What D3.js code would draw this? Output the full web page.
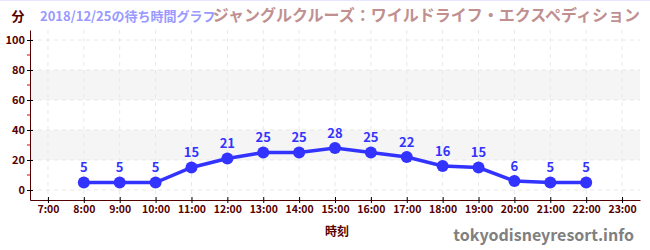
<!DOCTYPE html>
<html>
<head>
<meta charset="utf-8">
<script src="https://d3js.org/d3.v7.min.js"></script>
<style>
  body { margin: 0; background: #fff; }
  text { font-family: "Noto Sans CJK JP", "DejaVu Sans", sans-serif; }
</style>
</head>
<body>
<div id="chart"></div>
<script>
// data
const hours = [8, 9, 10, 11, 12, 13, 14, 15, 16, 17, 18, 19, 20, 21, 22];
const waits = [5, 5, 5, 15, 21, 25, 25, 28, 25, 22, 16, 15, 6, 5, 5];
const xTicks = [7, 8, 9, 10, 11, 12, 13, 14, 15, 16, 17, 18, 19, 20, 21, 22, 23];
const yTicks = [0, 20, 40, 60, 80, 100];
const yMinor = [10, 30, 50, 70, 90];
const bands = [[20, 40], [60, 80]];

const W = 650, H = 250;
const svg = d3.select("#chart").append("svg")
  .attr("width", W).attr("height", H);

const x = d3.scaleLinear().domain([6.5, 23.5]).range([30, 640]);
const y = d3.scaleLinear().domain([-6.67, 106.67]).range([200, 30]);

// shaded bands
svg.selectAll(".band").data(bands).enter().append("rect")
  .attr("x", x(6.5)).attr("width", x(23.5) - x(6.5))
  .attr("y", d => y(d[1])).attr("height", d => y(d[0]) - y(d[1]))
  .attr("fill", "#f5f5f5");

// grid
svg.selectAll(".hg").data(yTicks).enter().append("line")
  .attr("x1", x(6.5)).attr("x2", x(23.5))
  .attr("y1", d => y(d)).attr("y2", d => y(d))
  .attr("stroke", "#e8e8e8").attr("stroke-dasharray", "4,4");
svg.selectAll(".vg").data(xTicks).enter().append("line")
  .attr("x1", d => x(d)).attr("x2", d => x(d))
  .attr("y1", 30).attr("y2", 200)
  .attr("stroke", "#e8e8e8").attr("stroke-dasharray", "4,4");

// y axis
const yAxis = svg.append("g").attr("transform", "translate(30,0)")
  .call(d3.axisLeft(y).tickValues(yTicks).tickSize(3).tickSizeOuter(0));
yAxis.select(".domain").attr("stroke", "#550000");
yAxis.selectAll(".tick line").attr("x2", 3).attr("x1", -3).attr("stroke", "#000");
yAxis.selectAll("text").attr("x", -5).attr("fill", "#550000")
  .style("font-size", "11px").style("font-weight", "bold");
svg.selectAll(".ym").data(yMinor).enter().append("line")
  .attr("x1", 27).attr("x2", 30)
  .attr("y1", d => y(d)).attr("y2", d => y(d))
  .attr("stroke", "#dd0000");

// x axis
const xAxis = svg.append("g").attr("transform", "translate(0,200)")
  .call(d3.axisBottom(x).tickValues(xTicks).tickFormat(d => d + ":00").tickSize(3).tickSizeOuter(0));
xAxis.select(".domain").attr("stroke", "#550000");
xAxis.selectAll(".tick line").attr("y1", -3).attr("y2", 3).attr("stroke", "#000");
xAxis.selectAll("text").attr("y", 6).attr("fill", "#550000")
  .style("font-size", "10.5px").style("font-weight", "bold");

// line + points
const pts = hours.map((h, i) => [h, waits[i]]);
svg.append("path").datum(pts)
  .attr("fill", "none").attr("stroke", "#3333ff").attr("stroke-width", 3.5)
  .attr("d", d3.line().x(d => x(d[0])).y(d => y(d[1])));
svg.selectAll(".dot").data(pts).enter().append("circle")
  .attr("cx", d => x(d[0])).attr("cy", d => y(d[1])).attr("r", 6)
  .attr("fill", "#3333ff");
svg.selectAll(".lbl").data(pts).enter().append("text")
  .attr("x", d => x(d[0])).attr("y", d => y(d[1]) - 10)
  .attr("text-anchor", "middle").attr("fill", "#3333ff")
  .style("font-size", "13px").style("font-weight", "bold")
  .text(d => d[1]);

// titles
svg.append("line").attr("x1", 0).attr("x2", W).attr("y1", 0.5).attr("y2", 0.5)
  .attr("stroke", "#e6e6ff");
svg.append("text").attr("x", 18).attr("y", 21).attr("text-anchor", "middle")
  .attr("fill", "#550000").style("font-size", "13px").style("font-weight", "bold").text("分");
svg.append("text").attr("x", 40).attr("y", 21)
  .attr("fill", "#9999ff").style("font-size", "13px").style("font-weight", "bold")
  .text("2018/12/25の待ち時間グラフ");
svg.append("text").attr("x", 640).attr("y", 21).attr("text-anchor", "end")
  .attr("fill", "#c09090").style("font-size", "16px").style("font-weight", "bold")
  .text("ジャングルクルーズ：ワイルドライフ・エクスペディション");
svg.append("text").attr("x", 337).attr("y", 236).attr("text-anchor", "middle")
  .attr("fill", "#550000").style("font-size", "12px").style("font-weight", "bold").text("時刻");
svg.append("text").attr("x", 634).attr("y", 241).attr("text-anchor", "end")
  .attr("fill", "#808080").style("font-size", "16px").style("font-weight", "bold")
  .text("tokyodisneyresort.info");
</script>
</body>
</html>
